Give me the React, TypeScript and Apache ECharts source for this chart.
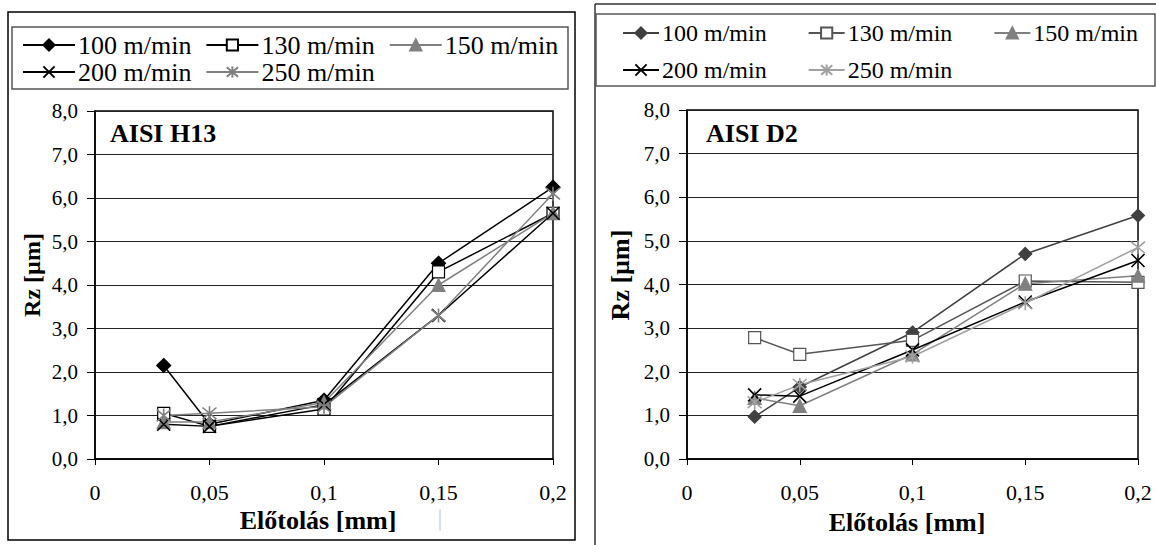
import React, { useEffect, useRef } from "react";
import * as echarts from "echarts";

// Feed rates (mm) shared by both panels
const feeds = [0.03, 0.05, 0.1, 0.15, 0.2];

// AISI H13 — Rz [µm] per cutting speed
const h13_100 = [2.15, 0.8, 1.35, 4.5, 6.25];
const h13_130 = [1.05, 0.75, 1.15, 4.3, 5.65];
const h13_150 = [0.85, 0.85, 1.3, 4.0, 5.65];
const h13_200 = [0.8, 0.75, 1.25, 3.3, 5.65];
const h13_250 = [1.0, 1.05, 1.2, 3.3, 6.1];

// AISI D2 — Rz [µm] per cutting speed
const d2_100 = [0.97, 1.65, 2.9, 4.7, 5.58];
const d2_130 = [2.78, 2.4, 2.72, 4.08, 4.05];
const d2_150 = [1.4, 1.22, 2.4, 4.02, 4.2];
const d2_200 = [1.47, 1.44, 2.5, 3.6, 4.55];
const d2_250 = [1.3, 1.7, 2.35, 3.57, 4.85];

const speedNames = ["100 m/min", "130 m/min", "150 m/min", "200 m/min", "250 m/min"];

const FONT = "Liberation Serif";
const X_PATH = "path://M0,0L10,10M10,0L0,10";
const STAR_PATH = "path://M0,0L10,10M10,0L0,10M5,-1L5,11";

type Style = { line: string; symbol: string; fill: string; border: string; size: number };

function makeSeries(name: string, values: number[], s: Style) {
  const isPath = s.symbol.startsWith("path://");
  return {
    name,
    type: "line",
    data: feeds.map((f, i) => [f, values[i]]),
    symbol: s.symbol,
    symbolSize: s.size,
    lineStyle: { color: s.line, width: 1.5 },
    itemStyle: {
      color: isPath ? "rgba(0,0,0,0)" : s.fill,
      borderColor: s.border,
      borderWidth: isPath ? 1.6 : 1.2,
    },
    emphasis: { disabled: true },
  };
}

const fmtX = (v: number) => String(Number(v.toFixed(2))).replace(".", ",");
const fmtY = (v: number) => v.toFixed(1).replace(".", ",");

function baseAxes(grid: any) {
  return {
    textStyle: { fontFamily: FONT },
    grid: { ...grid, show: true, borderColor: "#000", borderWidth: 1.5, backgroundColor: "#fff" },
    xAxis: {
      type: "value",
      min: 0,
      max: 0.2,
      interval: 0.05,
      axisLine: { show: true, lineStyle: { color: "#000", width: 1.5 } },
      axisTick: { show: true, inside: false, length: 6, lineStyle: { color: "#000", width: 1 } },
      axisLabel: { fontFamily: FONT, fontSize: 22, color: "#000", margin: 22, formatter: fmtX },
      splitLine: { show: false },
    },
    yAxis: {
      type: "value",
      min: 0,
      max: 8,
      interval: 1,
      axisLine: { show: true, lineStyle: { color: "#000", width: 1.5 } },
      axisTick: { show: true, inside: false, length: 8, lineStyle: { color: "#000", width: 1 } },
      axisLabel: { fontFamily: FONT, fontSize: 21, color: "#000", margin: 17, formatter: fmtY },
      splitLine: { show: true, lineStyle: { color: "#222", width: 1 } },
    },
  };
}

function legendPair(top1: number, top2: number, left: number, itemWidth: number, gap: number, fontSize: number) {
  const common = {
    orient: "horizontal",
    left,
    itemWidth,
    itemHeight: 14,
    itemGap: gap,
    selectedMode: false,
    textStyle: { fontFamily: FONT, fontSize, color: "#000", padding: [0, 0, 0, -2] },
  };
  return [
    { ...common, top: top1, data: speedNames.slice(0, 3) },
    { ...common, top: top2, data: speedNames.slice(3) },
  ];
}

function h13Option() {
  const styles: Style[] = [
    { line: "#000", symbol: "diamond", fill: "#000", border: "#000", size: 14 },
    { line: "#000", symbol: "rect", fill: "#fff", border: "#000", size: 12 },
    { line: "#808080", symbol: "triangle", fill: "#808080", border: "#808080", size: 13 },
    { line: "#000", symbol: X_PATH, fill: "#000", border: "#000", size: 13 },
    { line: "#808080", symbol: STAR_PATH, fill: "#808080", border: "#808080", size: 14 },
  ];
  const values = [h13_100, h13_130, h13_150, h13_200, h13_250];
  return {
    animation: false,
    ...baseAxes({ left: 95, top: 111, width: 458, height: 348 }),
    legend: legendPair(27, 54, 17, 52, 14, 26),
    series: values.map((v, i) => makeSeries(speedNames[i], v, styles[i])),
    graphic: [
      { type: "rect", shape: { x: 8, y: 12, width: 567, height: 528 }, style: { fill: "none", stroke: "#000", lineWidth: 1.5 }, silent: true },
      { type: "rect", shape: { x: 12, y: 27, width: 556, height: 62 }, style: { fill: "none", stroke: "#555", lineWidth: 1.5 }, silent: true },
      { type: "text", x: 110, y: 133, style: { text: "AISI H13", fontFamily: FONT, fontWeight: "bold", fontSize: 26, fill: "#000", verticalAlign: "middle" }, z: 10 },
      { type: "text", x: 318, y: 520, style: { text: "Előtolás [mm]", fontFamily: FONT, fontWeight: "bold", fontSize: 26, fill: "#000", align: "center", verticalAlign: "middle" } },
      { type: "text", x: 32, y: 275, rotation: Math.PI / 2, style: { text: "Rz [µm]", fontFamily: FONT, fontWeight: "bold", fontSize: 24, fill: "#000", align: "center", verticalAlign: "middle" } },
      { type: "line", shape: { x1: 440, y1: 509, x2: 440, y2: 531 }, style: { stroke: "#a9c4e3", lineWidth: 1 } },
    ],
  };
}

function d2Option() {
  const styles: Style[] = [
    { line: "#404040", symbol: "diamond", fill: "#404040", border: "#404040", size: 13 },
    { line: "#555", symbol: "rect", fill: "#fff", border: "#555", size: 12 },
    { line: "#808080", symbol: "triangle", fill: "#808080", border: "#808080", size: 13 },
    { line: "#000", symbol: X_PATH, fill: "#000", border: "#000", size: 13 },
    { line: "#a0a0a0", symbol: STAR_PATH, fill: "#a0a0a0", border: "#a0a0a0", size: 14 },
  ];
  const values = [d2_100, d2_130, d2_150, d2_200, d2_250];
  return {
    animation: false,
    ...baseAxes({ left: 107, top: 110, width: 451, height: 349 }),
    legend: legendPair(16, 53, 37, 36, 41, 24),
    series: values.map((v, i) => makeSeries(speedNames[i], v, styles[i])),
    graphic: [
      { type: "line", shape: { x1: 15, y1: 4, x2: 15, y2: 545 }, style: { stroke: "#333", lineWidth: 1.5 }, silent: true },
      { type: "line", shape: { x1: 15, y1: 4, x2: 576, y2: 4 }, style: { stroke: "#333", lineWidth: 1.5 }, silent: true },
      { type: "rect", shape: { x: 16, y: 14, width: 559, height: 72 }, style: { fill: "none", stroke: "#555", lineWidth: 1.5 }, silent: true },
      { type: "text", x: 126, y: 133, style: { text: "AISI D2", fontFamily: FONT, fontWeight: "bold", fontSize: 26, fill: "#000", verticalAlign: "middle" }, z: 10 },
      { type: "text", x: 327, y: 522, style: { text: "Előtolás [mm]", fontFamily: FONT, fontWeight: "bold", fontSize: 26, fill: "#000", align: "center", verticalAlign: "middle" } },
      { type: "text", x: 40, y: 275, rotation: Math.PI / 2, style: { text: "Rz [µm]", fontFamily: FONT, fontWeight: "bold", fontSize: 26, fill: "#000", align: "center", verticalAlign: "middle" } },
    ],
  };
}

function Panel({ left, width, option }: { left: number; width: number; option: () => any }) {
  const ref = useRef<HTMLDivElement>(null);
  useEffect(() => {
    if (!ref.current) return;
    const chart = echarts.init(ref.current, undefined, { renderer: "svg" });
    chart.setOption(option());
    return () => chart.dispose();
  }, [option]);
  return <div ref={ref} style={{ position: "absolute", left, top: 0, width, height: 545 }} />;
}

export default function App() {
  return (
    <div style={{ position: "fixed", left: 0, top: 0, width: 1156, height: 545, background: "#fff", overflow: "hidden" }}>
      <Panel left={0} width={580} option={h13Option} />
      <Panel left={580} width={576} option={d2Option} />
    </div>
  );
}
